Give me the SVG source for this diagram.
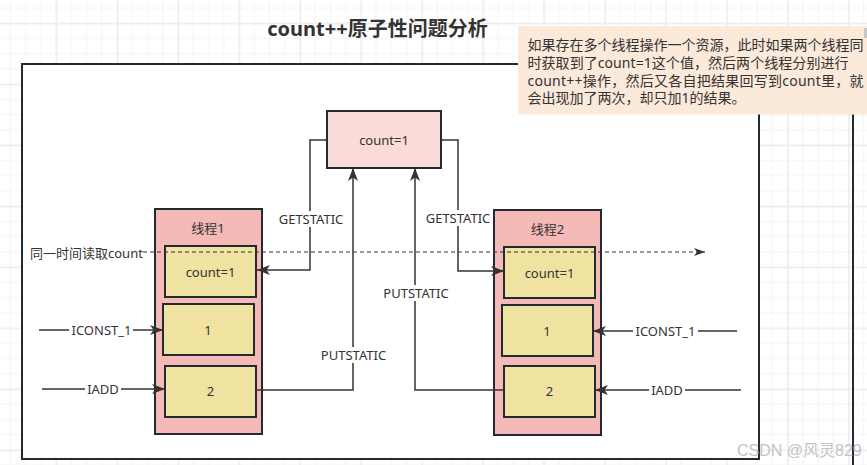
<svg xmlns="http://www.w3.org/2000/svg" width="867" height="465" viewBox="0 0 867 465">
<style>
.t{font-family:"Noto Sans","Noto Sans CJK SC",sans-serif;fill:#333;}
.l13{font-size:13px;}
.box{stroke:#222a33;stroke-width:2;}
.top{fill:#fadbd8;}
.thr{fill:#f5b9b7;}
.cell{fill:#f0e3a1;}
.edge{fill:none;stroke:#333;stroke-width:1.5;}
.lbg{fill:#fff;}
</style>
<defs>
<pattern id="grid" patternUnits="userSpaceOnUse" x="-5.36" y="-38.26" width="60.96" height="60.96">
<rect x="15.24" y="0" width="1" height="60.96" fill="#f4f4f4"/>
<rect x="30.48" y="0" width="1" height="60.96" fill="#f4f4f4"/>
<rect x="45.72" y="0" width="1" height="60.96" fill="#f4f4f4"/>
<rect x="0" y="15.24" width="60.96" height="1" fill="#f4f4f4"/>
<rect x="0" y="30.48" width="60.96" height="1" fill="#f4f4f4"/>
<rect x="0" y="45.72" width="60.96" height="1" fill="#f4f4f4"/>
<rect x="0" y="0" width="1.6" height="60.96" fill="#ececec"/>
<rect x="0" y="0" width="60.96" height="1.6" fill="#ececec"/>
</pattern>
<marker id="arr" markerUnits="userSpaceOnUse" viewBox="0 0 13 10" markerWidth="13" markerHeight="10" refX="13" refY="5" orient="auto">
<path d="M0,0 L13,5 L0,10 L3.5,5 z" fill="#333"/>
</marker>
<marker id="arrs" markerUnits="userSpaceOnUse" viewBox="0 0 11 8" markerWidth="11" markerHeight="8" refX="11" refY="4" orient="auto">
<path d="M0,0 L11,4 L0,8 L3,4 z" fill="#333"/>
</marker>
</defs>
<rect x="0" y="0" width="867" height="465" fill="#fff"/>
<rect x="0" y="0" width="867" height="465" fill="url(#grid)"/>

<g id="frame">
<rect x="22" y="64" width="737" height="395" fill="#fff" stroke="#222a33" stroke-width="2"/>
<line x1="853" y1="60" x2="853" y2="465" stroke="#222a33" stroke-width="2"/>
</g>

<g id="title">
<text class="t" x="377.5" y="36" font-size="20" font-weight="bold" text-anchor="middle">count++原子性问题分析</text>
</g>

<g id="note">
<rect x="518" y="26" width="349" height="88.5" fill="#fbe9da"/>
<rect x="864" y="28" width="3" height="10" fill="#c8c8c8"/>
<text class="t" font-size="14" x="527.5" y="50">如果存在多个线程操作一个资源，此时如果两个线程同</text>
<text class="t" font-size="14" x="527.5" y="67.8" textLength="321" lengthAdjust="spacing">时获取到了count=1这个值，然后两个线程分别进行</text>
<text class="t" font-size="14" x="527.5" y="85.6" textLength="336" lengthAdjust="spacing">count++操作，然后又各自把结果回写到count里，就</text>
<text class="t" font-size="14" x="527.5" y="103.4">会出现加了两次，却只加1的结果。</text>
</g>

<g id="shared-count">
<rect class="box top" x="327" y="111" width="114" height="57"/>
<text class="t l13" x="384" y="144.5" text-anchor="middle">count=1</text>
</g>

<g id="thread1">
<rect class="box thr" x="155" y="209" width="107" height="225"/>
<text class="t l13" x="208" y="232.5" text-anchor="middle">线程1</text>
</g>
<g id="thread1-count">
<rect class="box cell" x="165" y="246" width="91" height="51"/>
<text class="t l13" x="210.5" y="277" text-anchor="middle">count=1</text>
</g>
<g id="thread1-1">
<rect class="box cell" x="163" y="304" width="91" height="51"/>
<text class="t l13" x="208" y="334.5" text-anchor="middle">1</text>
</g>
<g id="thread1-2">
<rect class="box cell" x="165" y="366" width="91" height="51"/>
<text class="t l13" x="210.5" y="396" text-anchor="middle">2</text>
</g>

<g id="thread2">
<rect class="box thr" x="494" y="210" width="107" height="225"/>
<text class="t l13" x="547.5" y="233.5" text-anchor="middle">线程2</text>
</g>
<g id="thread2-count">
<rect class="box cell" x="504" y="247" width="91" height="51"/>
<text class="t l13" x="549.5" y="277.5" text-anchor="middle">count=1</text>
</g>
<g id="thread2-1">
<rect class="box cell" x="502" y="305" width="91" height="51"/>
<text class="t l13" x="547" y="335.5" text-anchor="middle">1</text>
</g>
<g id="thread2-2">
<rect class="box cell" x="504" y="366" width="91" height="51"/>
<text class="t l13" x="549.5" y="396" text-anchor="middle">2</text>
</g>

<g id="connectors">
<path class="edge" d="M327,140 H310 V270 H257" marker-end="url(#arr)"/>
<path class="edge" d="M441,140 H458 V271 H504" marker-end="url(#arr)"/>
<path class="edge" d="M256,390 H353 V168" marker-end="url(#arr)"/>
<path class="edge" d="M504,390 H415 V168" marker-end="url(#arr)"/>
<path class="edge" d="M39,330 H163" marker-end="url(#arr)"/>
<path class="edge" d="M42,389 H165" marker-end="url(#arr)"/>
<path class="edge" d="M737,331 H593" marker-end="url(#arr)"/>
<path class="edge" d="M741,390 H595" marker-end="url(#arr)"/>
<path d="M143,252 H705" fill="none" stroke="#333" stroke-width="1" stroke-dasharray="4 3" marker-end="url(#arrs)"/>

<rect class="lbg" x="277" y="211" width="68" height="16"/>
<text class="t l13" x="311" y="223.5" text-anchor="middle">GETSTATIC</text>
<rect class="lbg" x="424" y="210" width="68" height="16"/>
<text class="t l13" x="458" y="222.5" text-anchor="middle">GETSTATIC</text>
<rect class="lbg" x="319" y="347" width="69" height="16"/>
<text class="t l13" x="353.5" y="359.5" text-anchor="middle">PUTSTATIC</text>
<rect class="lbg" x="381" y="285" width="70" height="16"/>
<text class="t l13" x="416" y="297.5" text-anchor="middle">PUTSTATIC</text>
<rect class="lbg" x="69" y="322" width="64" height="16"/>
<text class="t l13" x="101.5" y="334.5" text-anchor="middle">ICONST_1</text>
<rect class="lbg" x="85" y="381" width="36" height="16"/>
<text class="t l13" x="103" y="393.5" text-anchor="middle">IADD</text>
<rect class="lbg" x="633" y="323" width="65" height="16"/>
<text class="t l13" x="665.5" y="336" text-anchor="middle">ICONST_1</text>
<rect class="lbg" x="649" y="382" width="36" height="16"/>
<text class="t l13" x="667" y="394.5" text-anchor="middle">IADD</text>
<text class="t l13" x="30" y="257.5">同一时间读取count</text>
</g>

<g id="watermark">
<text x="737" y="456" font-family="'Liberation Sans','Noto Sans CJK SC',sans-serif" font-size="16" fill="#c4c4c4">CSDN @风灵829</text>
</g>
</svg>
